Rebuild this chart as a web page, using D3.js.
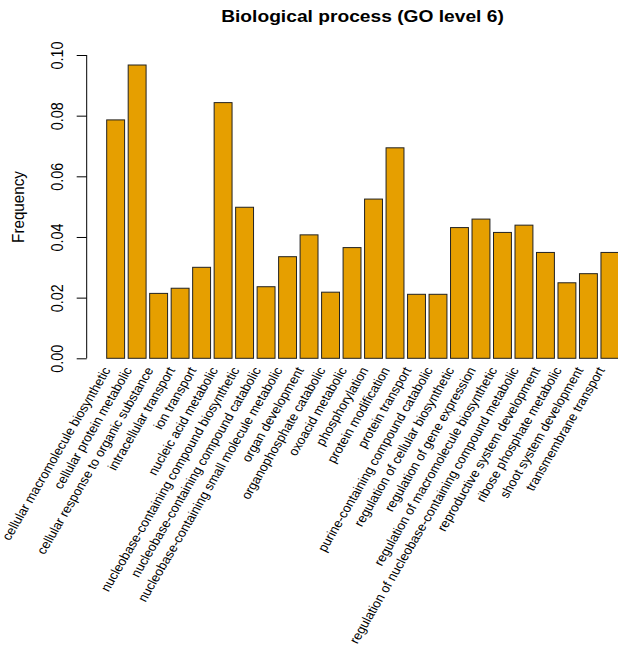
<!DOCTYPE html>
<html>
<head>
<meta charset="utf-8">
<script src="https://cdn.jsdelivr.net/npm/d3@7"></script>
<style>
  html, body { margin: 0; padding: 0; background: #fff; }
  svg { display: block; font-family: "Liberation Sans", Arial, Helvetica, sans-serif; }
</style>
</head>
<body>
<svg id="chart" width="618" height="648"></svg>
<script>
// GO terms (biological process, level 6)
const categories = [
  "cellular macromolecule biosynthetic",
  "cellular protein metabolic",
  "cellular response to organic substance",
  "intracellular transport",
  "ion transport",
  "nucleic acid metabolic",
  "nucleobase-containing compound biosynthetic",
  "nucleobase-containing compound catabolic",
  "nucleobase-containing small molecule metabolic",
  "organ development",
  "organophosphate catabolic",
  "oxoacid metabolic",
  "phosphorylation",
  "protein modification",
  "protein transport",
  "purine-containing compound catabolic",
  "regulation of cellular biosynthetic",
  "regulation of gene expression",
  "regulation of macromolecule biosynthetic",
  "regulation of nucleobase-containing compound metabolic",
  "reproductive system development",
  "ribose phosphate metabolic",
  "shoot system development",
  "transmembrane transport"
];

// Relative frequency of each term
const frequency = [
  0.0786, 0.0967, 0.0214, 0.0231, 0.0300, 0.0843, 0.0498, 0.0236,
  0.0335, 0.0407, 0.0218, 0.0365, 0.0525, 0.0694, 0.0211, 0.0211,
  0.0431, 0.0459, 0.0415, 0.0439, 0.0349, 0.0249, 0.0279, 0.0349
];

const yTicks = [0.00, 0.02, 0.04, 0.06, 0.08, 0.10];

// text is drawn slightly wider than tall
const sx = 1.11;

const svg = d3.select("#chart");

const y = d3.scaleLinear().domain([0, 0.10]).range([358.3, 55]);

// bar width 1, space 0.2 between bars
const step = 21.49;
const x = d3.scaleBand()
  .domain(categories)
  .range([104.9, 104.9 + step * categories.length])
  .paddingInner(1 / 6)
  .paddingOuter(1 / 12);

// bars
svg.append("g")
  .selectAll("rect")
  .data(categories)
  .join("rect")
  .attr("x", d => x(d))
  .attr("y", (d, i) => y(frequency[i]))
  .attr("width", x.bandwidth())
  .attr("height", (d, i) => y(0) - y(frequency[i]))
  .attr("fill", "#E69F00")
  .attr("stroke", "#222")
  .attr("stroke-width", 1);

// y axis
const yAxis = d3.axisLeft(y)
  .tickValues(yTicks)
  .tickFormat(d3.format(".2f"))
  .tickSize(10)
  .tickPadding(0);

const gy = svg.append("g")
  .attr("transform", "translate(86.7,0)")
  .call(yAxis);
gy.select(".domain").attr("d", `M0,${y(0)}V${y(0.10)}`).attr("stroke", "#000");
gy.selectAll(".tick line").attr("stroke", "#000");
gy.selectAll(".tick text")
  .attr("x", null).attr("dy", null)
  .attr("text-anchor", "middle")
  .attr("transform", `translate(-23.6,0) scale(${sx},1) rotate(-90)`)
  .attr("font-size", 14.4)
  .attr("font-family", "Liberation Sans, Arial, sans-serif")
  .attr("fill", "#000");

// category labels, slanted
svg.append("g")
  .selectAll("text")
  .data(categories)
  .join("text")
  .attr("transform", d => `translate(${x(d) + x.bandwidth() / 2 - 4.7},370) scale(${sx},1) rotate(-62)`)
  .attr("text-anchor", "end")
  .attr("font-size", 12.3)
  .attr("fill", "#000")
  .text(d => d);

// axis title
svg.append("text")
  .attr("transform", `translate(24,207) scale(${sx},1) rotate(-90)`)
  .attr("text-anchor", "middle")
  .attr("font-size", 15.2)
  .attr("fill", "#000")
  .text("Frequency");

// chart title
svg.append("text")
  .attr("transform", `translate(362.5,22) scale(${sx},1)`)
  .attr("text-anchor", "middle")
  .attr("font-size", 17.3)
  .attr("font-weight", "bold")
  .attr("fill", "#000")
  .text("Biological process (GO level 6)");
</script>
</body>
</html>
